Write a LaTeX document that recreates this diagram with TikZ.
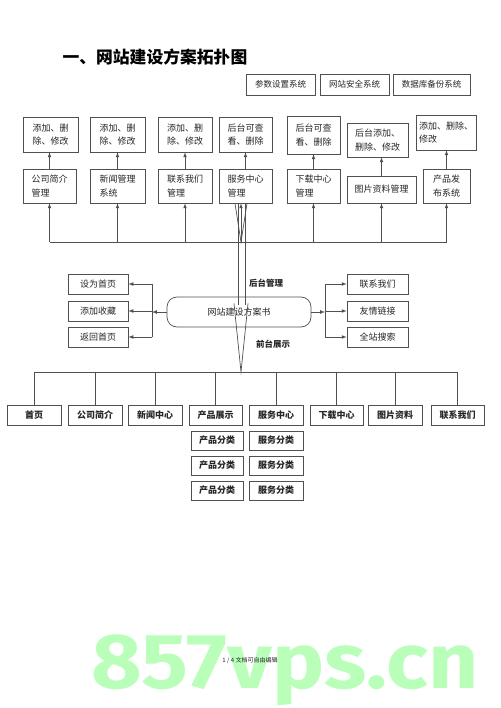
\documentclass[tikz,border=0pt]{standalone}
\usepackage{fontspec}
\usepackage{tikz}
\usetikzlibrary{shapes,arrows,positioning,calc}
\setmainfont{Noto Sans CJK SC}
\newfontfamily\cjk{Noto Sans CJK SC}
\newfontfamily\wmfont{Fira Sans}
\definecolor{linegray}{RGB}{80,80,80}
\definecolor{wmgreen}{RGB}{185,255,185}

\begin{document}
\begin{tikzpicture}[x=1pt, y=-1pt,
    box/.style={rectangle, draw=linegray, line width=0.7pt, inner sep=2pt, align=left, text=black!85, font=\cjk\fontsize{9}{13.5}\selectfont},
    menu/.style={rectangle, draw=linegray, line width=0.7pt, inner sep=1pt, minimum height=20pt, text=black!85, font=\cjk\bfseries\fontsize{9}{10}\selectfont},
    tag/.style={text=black!85, font=\cjk\bfseries\fontsize{8.5}{10}\selectfont},
    link/.style={draw=linegray, line width=0.7pt},
    arrow/.style={link, ->, >=latex}]

    \fill[white] (0,0) rectangle (500,708);
    \useasboundingbox (0,0) rectangle (500,708);

    % watermark and footer
    \node[anchor=base, xscale=1.12, transform shape, text=wmgreen, font=\wmfont\bfseries\fontsize{78}{78}\selectfont] (mark) at (285,688) {857vps.cn};
    \node[text=black!85, font=\cjk\fontsize{6}{7}\selectfont] (foot) at (250,660) {1 / 4 文档可自由编辑};

    \node[anchor=west, text=black, font=\cjk\bfseries\fontsize{16.8}{18}\selectfont] (title) at (59,57) {一、网站建设方案拓扑图};

    % system boxes
    \node[box, minimum width=69pt, minimum height=21pt, align=center, font=\cjk\fontsize{8.5}{10}\selectfont] (s1) at (280.5,84.5) {参数设置系统};
    \node[box, minimum width=69pt, minimum height=21pt, align=center, font=\cjk\fontsize{8.5}{10}\selectfont] (s2) at (354.5,84.5) {网站安全系统};
    \node[box, minimum width=77pt, minimum height=21pt, align=center, font=\cjk\fontsize{8.5}{10}\selectfont] (s3) at (431.5,84.5) {数据库备份系统};

    % back office: operations
    \node[box, minimum width=55pt, minimum height=35pt] (t1) at (50.5,134.5) {添加、删\\除、修改};
    \node[box, minimum width=55pt, minimum height=35pt] (t2) at (117.5,134.5) {添加、删\\除、修改};
    \node[box, minimum width=54pt, minimum height=35pt] (t3) at (185,134.5) {添加、删\\除、修改};
    \node[box, minimum width=53pt, minimum height=35pt] (t4) at (245.5,134.5) {后台可查\\看、删除};
    \node[box, minimum width=53pt, minimum height=38pt] (t5) at (313.5,135) {后台可查\\看、删除};
    \node[box, minimum width=61pt, minimum height=34pt] (t6) at (377.5,140) {后台添加、\\删除、修改};
    \node[box, minimum width=60pt, minimum height=35pt] (t7) at (446,132.5) {添加、删除、\\修改};

    % back office: modules
    \node[box, minimum width=53pt, minimum height=34pt] (g1) at (49.5,186) {公司简介\\管理};
    \node[box, minimum width=55pt, minimum height=34pt] (g2) at (117.5,186) {新闻管理\\系统};
    \node[box, minimum width=54pt, minimum height=34pt] (g3) at (185,186) {联系我们\\管理};
    \node[box, minimum width=53pt, minimum height=34pt] (g4) at (245.5,186) {服务中心\\管理};
    \node[box, minimum width=53pt, minimum height=34pt] (g5) at (313.5,186) {下载中心\\管理};
    \node[box, minimum width=69pt, minimum height=27pt] (g6) at (381.5,189.5) {图片资料管理};
    \node[box, minimum width=47pt, minimum height=34pt] (g7) at (446.5,186) {产品发\\布系统};

    \foreach \i in {1,...,7}
        \draw[arrow] (g\i) -- (g\i |- t\i.south);

    \coordinate (tbus) at (0,242);
    \draw[link] (g1.south |- tbus) -- (g7.south |- tbus);
    \foreach \i in {1,2,3,5,6,7}
        \draw[arrow] (g\i.south |- tbus) -- (g\i);

    % plan
    \node[box, rounded corners=10pt, minimum width=144pt, minimum height=30pt, align=center] (plan) at (239,312) {网站建设方案书};

    \node[box, minimum width=60pt, minimum height=20pt, align=center] (l1) at (98,284) {设为首页};
    \node[box, minimum width=60pt, minimum height=20pt, align=center] (l2) at (98,311) {添加收藏};
    \node[box, minimum width=60pt, minimum height=20pt, align=center] (l3) at (98,337) {返回首页};
    \node[box, minimum width=61pt, minimum height=20pt, align=center] (r1) at (377.5,284) {联系我们};
    \node[box, minimum width=61pt, minimum height=20pt, align=center] (r2) at (377.5,311) {友情链接};
    \node[box, minimum width=61pt, minimum height=20pt, align=center] (r3) at (377.5,337) {全站搜索};

    \coordinate (jl) at (152,312);
    \coordinate (jr) at (325,312);
    \draw[arrow] (plan) -- (jl);
    \draw[arrow] (plan) -- (jr);
    \draw[link] (l1 -| jl) -- (l3 -| jl);
    \draw[link] (r1 -| jr) -- (r3 -| jr);
    \foreach \i in {1,2,3} {
        \draw[arrow] (l\i -| jl) -- (l\i);
        \draw[arrow] (r\i -| jr) -- (r\i);
    }

    \node[tag] (backlbl) at (266,283) {后台管理};
    \node[tag] (frontlbl) at (273,344) {前台展示};

    % front pages
    \node[menu, minimum width=54pt] (b1) at (34,415) {首页};
    \node[menu, minimum width=54pt] (b2) at (95,415) {公司简介};
    \node[menu, minimum width=54pt] (b3) at (155,415) {新闻中心};
    \node[menu, minimum width=53pt] (b4) at (215.5,415) {产品展示};
    \node[menu, minimum width=54pt] (b5) at (276,415) {服务中心};
    \node[menu, minimum width=53pt] (b6) at (336.5,415) {下载中心};
    \node[menu, minimum width=54pt] (b7) at (395,415) {图片资料};
    \node[menu, minimum width=53pt] (b8) at (457.5,415) {联系我们};

    \foreach \y [count=\i] in {440.5,465.5,490.5} {
        \node[menu, minimum width=52pt, minimum height=19pt] (p\i) at (217,\y) {产品分类};
        \node[menu, minimum width=54pt, minimum height=19pt] (q\i) at (276,\y) {服务分类};
    }

    \coordinate (bbus) at (0,372);
    \draw[link] (b1.north |- bbus) -- (b8.north |- bbus);
    \foreach \i in {1,...,8}
        \draw[link] (b\i.north |- bbus) -- (b\i);

    % lines through the plan
    \coordinate (hub) at ($(g4.south)+(-4.5,0)$);
    \draw[arrow] (hub |- tbus) -- (hub);
    \draw[link] ($(hub)+(-6,0)$) -- (hub |- tbus) -- ($(hub)+(6,0)$);
    \draw[link] ($(hub)+(-3,0)$) -- ($(hub)+(-3,102)$);
    \draw[link] ($(hub)+(4,0)$) -- ($(hub)+(4,102)$);
    \draw[link] ($(hub)+(-7,100)$) -- (hub |- bbus) -- ($(hub)+(7,100)$);
\end{tikzpicture}
\end{document}
